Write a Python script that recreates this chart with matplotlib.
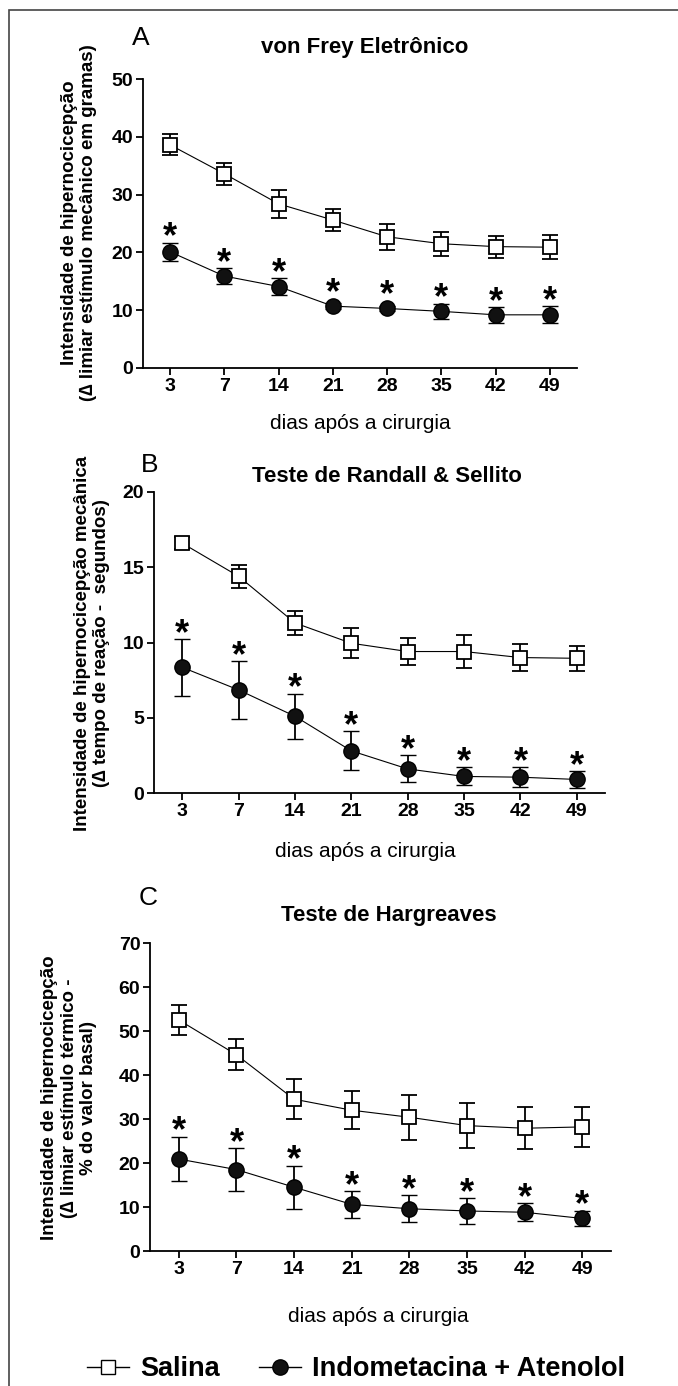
import matplotlib
matplotlib.use('Agg')
import matplotlib.pyplot as plt
from matplotlib.lines import Line2D
from matplotlib.patches import Rectangle

plt.rcParams['font.family'] = ['Liberation Sans', 'DejaVu Sans']

days = ['3', '7', '14', '21', '28', '35', '42', '49']

# A - von Frey
vf_sal = [38.6, 33.6, 28.4, 25.6, 22.7, 21.5, 21.0, 20.9]
vf_sal_err = [1.8, 1.9, 2.4, 1.9, 2.2, 2.1, 1.9, 2.1]
vf_ind = [20.1, 15.9, 14.1, 10.7, 10.3, 9.8, 9.2, 9.2]
vf_ind_err = [1.6, 1.35, 1.45, 0.5, 0.5, 1.3, 1.4, 1.5]

# B - Randall & Sellito
rs_sal = [16.6, 14.4, 11.3, 9.95, 9.4, 9.4, 9.0, 8.95]
rs_sal_err = [0.4, 0.75, 0.8, 1.0, 0.9, 1.1, 0.9, 0.85]
rs_ind = [8.35, 6.85, 5.1, 2.8, 1.6, 1.1, 1.05, 0.9]
rs_ind_err = [1.9, 1.9, 1.5, 1.3, 0.9, 0.6, 0.68, 0.55]

# C - Hargreaves
hg_sal = [52.5, 44.6, 34.5, 32.0, 30.4, 28.5, 27.9, 28.2]
hg_sal_err = [3.4, 3.5, 4.5, 4.3, 5.1, 5.1, 4.8, 4.5]
hg_ind = [20.9, 18.5, 14.5, 10.6, 9.6, 9.1, 8.8, 7.4]
hg_ind_err = [5.1, 4.8, 4.9, 3.0, 3.1, 3.0, 2.0, 1.8]

W, H = 678, 1386
fig = plt.figure(figsize=(W / 100, H / 100), dpi=100)


def fx(px):
    return px / W


def fy(py):
    return 1 - py / H


# frame around the figure (only top and left visible)
fig.patches.append(Rectangle((fx(9), -0.05), 1.1, fy(10) + 0.05, transform=fig.transFigure,
                             fill=False, edgecolor='#444444', linewidth=1.2))

panels = [
    dict(box=(143, 79, 577, 368), ymax=50, yticks=range(0, 51, 10),
         sal=vf_sal, sal_err=vf_sal_err, ind=vf_ind, ind_err=vf_ind_err,
         title='von Frey Eletrônico', tpos=(365, 48), letter='A', lpos=(141, 38),
         xl=(360, 423),
         ylabel='Intensidade de hipernocicepção\n(∆ limiar estímulo mecânico em gramas)',
         ypos=(79, 223)),
    dict(box=(154, 492, 605, 793), ymax=20, yticks=range(0, 21, 5),
         sal=rs_sal, sal_err=rs_sal_err, ind=rs_ind, ind_err=rs_ind_err,
         title='Teste de Randall & Sellito', tpos=(387, 477), letter='B', lpos=(150, 465),
         xl=(365, 852),
         ylabel='Intensidade de hipernocicepção mecânica\n(∆ tempo de reação -  segundos)',
         ypos=(92, 643)),
    dict(box=(150, 943, 611, 1251), ymax=70, yticks=range(0, 71, 10),
         sal=hg_sal, sal_err=hg_sal_err, ind=hg_ind, ind_err=hg_ind_err,
         title='Teste de Hargreaves', tpos=(389, 915), letter='C', lpos=(148, 898),
         xl=(378, 1316),
         ylabel='Intensidade de hipernocicepção\n(∆ limiar estímulo térmico -\n% do valor basal)',
         ypos=(69, 1098)),
]

x = list(range(len(days)))

for p in panels:
    l, t, r, b = p['box']
    ax = fig.add_axes([fx(l), fy(b), (r - l) / W, (b - t) / H])
    ax.errorbar(x, p['sal'], yerr=p['sal_err'], color='black', lw=0.8, marker='s',
                markersize=10, markerfacecolor='white', markeredgecolor='black',
                markeredgewidth=1.3, elinewidth=1.3, capsize=6, capthick=1.6, zorder=3)
    ax.errorbar(x, p['ind'], yerr=p['ind_err'], color='black', lw=0.8, marker='o',
                markersize=11, markerfacecolor='#111111', markeredgecolor='black',
                markeredgewidth=1.0, elinewidth=1.3, capsize=6, capthick=1.6, zorder=3)
    ax.set_xlim(-0.5, 7.5)
    ax.set_ylim(0, p['ymax'])
    ax.set_xticks(x)
    ax.set_xticklabels(days)
    ax.set_yticks(list(p['yticks']))
    for s in ['top', 'right']:
        ax.spines[s].set_visible(False)
    for s in ['left', 'bottom']:
        ax.spines[s].set_linewidth(1.3)
    ax.tick_params(axis='both', length=5, width=1.3, pad=2, labelsize=14)
    for lab in ax.get_xticklabels() + ax.get_yticklabels():
        lab.set_fontweight('bold')

    ppu = (b - t) / p['ymax']
    for xi, m, e in zip(x, p['ind'], p['ind_err']):
        top = max(e * ppu, 8)
        ax.annotate('*', xy=(xi, m), xytext=(0, top - 5), textcoords='offset pixels',
                    ha='center', va='baseline', fontsize=26, fontweight='bold')

    fig.text(fx(p['tpos'][0]), fy(p['tpos'][1]), p['title'], ha='center', va='center',
             fontsize=16, fontweight='bold')
    fig.text(fx(p['lpos'][0]), fy(p['lpos'][1]), p['letter'], ha='center', va='center',
             fontsize=19)
    fig.text(fx(p['xl'][0]), fy(p['xl'][1]), 'dias após a cirurgia', ha='center', va='center',
             fontsize=15)
    fig.text(fx(p['ypos'][0]), fy(p['ypos'][1]), p['ylabel'], ha='center', va='center',
             rotation=90, fontsize=13.5, fontweight='bold', linespacing=1.2,
             multialignment='center')

handles = [
    Line2D([], [], color='black', lw=1.0, marker='s', markersize=10,
           markerfacecolor='white', markeredgecolor='black', markeredgewidth=1.0),
    Line2D([], [], color='black', lw=1.0, marker='o', markersize=11,
           markerfacecolor='#111111', markeredgecolor='black'),
]
fig.legend(handles, ['Salina', 'Indometacina + Atenolol'], loc='center',
           bbox_to_anchor=(fx(356), fy(1369)), ncol=2, frameon=False,
           prop={'weight': 'bold', 'size': 19.5}, handlelength=1.55, handletextpad=0.4,
           columnspacing=1.45, borderpad=0)

fig.savefig('out.png', dpi=100)
